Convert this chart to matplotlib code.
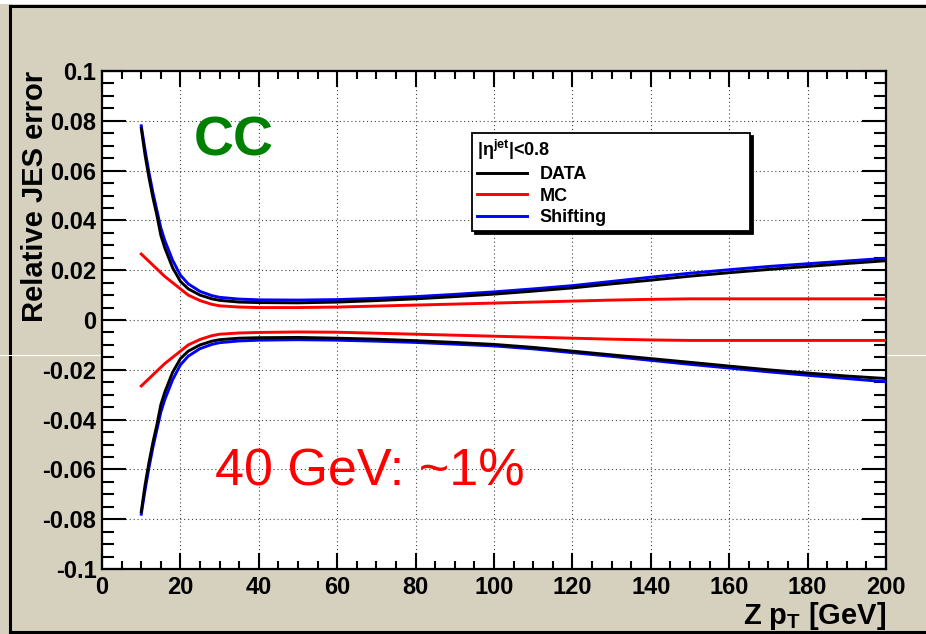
import numpy as np
import matplotlib
matplotlib.use("Agg")
import matplotlib.pyplot as plt
from matplotlib.lines import Line2D
from matplotlib.patches import Rectangle
from matplotlib.ticker import MultipleLocator

plt.rcParams['font.family'] = ['Liberation Sans', 'DejaVu Sans']
plt.rcParams['font.weight'] = 'bold'

# --- JES uncertainty bands vs Z pT ---
zpt = [10, 11, 12, 13, 14, 15, 16, 18, 20, 22, 25, 28, 30, 35, 40, 50, 60,
       70, 80, 90, 100, 110, 120, 130, 140, 150, 160, 170, 180, 190, 200]

data_up = [0.077, 0.066, 0.057, 0.049, 0.042, 0.034, 0.029, 0.021, 0.0155,
           0.0125, 0.0100, 0.0085, 0.0079, 0.0072, 0.0070, 0.0069, 0.0072,
           0.0078, 0.0085, 0.0094, 0.0104, 0.0116, 0.0129, 0.0145, 0.0160,
           0.0176, 0.0190, 0.0203, 0.0215, 0.0227, 0.0238]
data_dn = [-0.077, -0.066, -0.057, -0.049, -0.042, -0.034, -0.029, -0.021,
           -0.0155, -0.0125, -0.0100, -0.0085, -0.0079, -0.0073, -0.0071,
           -0.0070, -0.0073, -0.0077, -0.0083, -0.0090, -0.0098, -0.0110,
           -0.0125, -0.0140, -0.0155, -0.0170, -0.0185, -0.0200, -0.0213,
           -0.0225, -0.0235]

mc_up = [0.0265, 0.025, 0.0235, 0.022, 0.0205, 0.019, 0.0175, 0.015, 0.0125,
         0.0100, 0.0078, 0.0063, 0.0057, 0.0052, 0.0050, 0.0050, 0.0052,
         0.0056, 0.0060, 0.0064, 0.0068, 0.0072, 0.0076, 0.0080, 0.0083,
         0.0085, 0.0085, 0.0085, 0.0085, 0.0085, 0.0085]
mc_dn = [-0.0265, -0.025, -0.0235, -0.022, -0.0205, -0.019, -0.0175, -0.015,
         -0.0125, -0.0100, -0.0078, -0.0063, -0.0057, -0.0052, -0.0050,
         -0.0048, -0.0049, -0.0053, -0.0057, -0.0061, -0.0065, -0.0069,
         -0.0073, -0.0077, -0.0080, -0.0082, -0.0082, -0.0082, -0.0082,
         -0.0082, -0.0082]

shift_up = [0.078, 0.068, 0.059, 0.051, 0.044, 0.037, 0.032, 0.024, 0.018,
            0.0145, 0.0115, 0.0098, 0.0091, 0.0084, 0.0081, 0.0080, 0.0082,
            0.0087, 0.0094, 0.0103, 0.0113, 0.0125, 0.0138, 0.0155, 0.0172,
            0.0188, 0.0202, 0.0215, 0.0226, 0.0237, 0.0248]
shift_dn = [-0.078, -0.068, -0.059, -0.051, -0.044, -0.037, -0.032, -0.024,
            -0.018, -0.0145, -0.0115, -0.0098, -0.0091, -0.0084, -0.0081,
            -0.0079, -0.0081, -0.0085, -0.0090, -0.0097, -0.0104, -0.0116,
            -0.0131, -0.0146, -0.0162, -0.0178, -0.0193, -0.0208, -0.0222,
            -0.0235, -0.0248]

xticks = [0, 20, 40, 60, 80, 100, 120, 140, 160, 180, 200]
yticks = [-0.1, -0.08, -0.06, -0.04, -0.02, 0, 0.02, 0.04, 0.06, 0.08, 0.1]
ytick_labels = ['-0.1', '-0.08', '-0.06', '-0.04', '-0.02', '0',
                '0.02', '0.04', '0.06', '0.08', '0.1']

canvas_col = '#d6d0be'

fig = plt.figure(figsize=(9.26, 6.34), dpi=100, facecolor=canvas_col)
ax = fig.add_axes([0.1102, 0.1025, 0.8466, 0.7855])
ax.set_facecolor('white')

# frame of the canvas
fig.add_artist(Rectangle((0, 0.9937), 1, 0.0063, transform=fig.transFigure,
                         facecolor='white', edgecolor='none', zorder=-2))
for xs, ys in [([0.0108, 1.0], [0.9913, 0.9913]),
               ([0.0108, 0.0108], [0.0, 0.9913]),
               ([0.0108, 1.0], [0.003, 0.003])]:
    fig.add_artist(Line2D(xs, ys, transform=fig.transFigure, color='black',
                          lw=2.2, zorder=-1))
fig.add_artist(Line2D([0, 1], [0.44, 0.44], transform=fig.transFigure,
                      color='white', lw=0.8, zorder=-1))

lw = 2.1
ax.plot(zpt, shift_up, color='#0000ff', lw=lw, zorder=3, label='Shifting')
ax.plot(zpt, shift_dn, color='#0000ff', lw=lw, zorder=3)
ax.plot(zpt, data_up, color='black', lw=lw, zorder=4, label='DATA')
ax.plot(zpt, data_dn, color='black', lw=lw, zorder=4)
ax.plot(zpt, mc_up, color='#ff0000', lw=lw, zorder=5, label='MC')
ax.plot(zpt, mc_dn, color='#ff0000', lw=lw, zorder=5)

ax.set_xlim(0, 200)
ax.set_ylim(-0.1, 0.1)
ax.set_xticks(xticks)
ax.set_xticklabels([str(v) for v in xticks])
ax.set_yticks(yticks)
ax.set_yticklabels(ytick_labels)
ax.xaxis.set_minor_locator(MultipleLocator(5))
ax.yaxis.set_minor_locator(MultipleLocator(0.005))

ax.tick_params(axis='both', which='both', direction='in', top=True, right=True,
               width=1.5, labelsize=17)
ax.tick_params(axis='x', which='major', length=11.5, pad=5)
ax.tick_params(axis='x', which='minor', length=6)
ax.tick_params(axis='y', which='major', length=17, pad=4)
ax.tick_params(axis='y', which='minor', length=8.5)
for s in ax.spines.values():
    s.set_linewidth(1.6)

ax.grid(True, which='major', color='#444444', linestyle=(0, (1, 2.5)), lw=0.8)
ax.set_axisbelow(True)

ax.set_xlabel(r'Z p$_{\mathregular{T}}$ [GeV]', fontsize=21, fontweight='bold',
              loc='right')
ax.xaxis.set_label_coords(1.0, -0.062)
ax.set_ylabel('Relative JES error', fontsize=21, fontweight='bold', loc='top')
ax.yaxis.set_label_coords(-0.068, 1.0)

ax.text(0.168, 0.831, 'CC', transform=ax.transAxes, color='#008000',
        fontsize=40, fontweight='bold', ha='center', va='baseline')
ax.text(0.144, 0.1687, '40 GeV: ~1%', transform=ax.transAxes, color='#ff0000',
        fontsize=37.5, fontweight='normal', ha='left', va='baseline')

handles, labels = ax.get_legend_handles_labels()
order = [labels.index(n) for n in ['DATA', 'MC', 'Shifting']]
leg = ax.legend([handles[i] for i in order], [labels[i] for i in order],
                title=r'|η$^{\mathregular{jet}}$|<0.8',
                loc='upper left', bbox_to_anchor=(0.472, 0.687, 0.3545, 0.1885),
                mode='expand', fontsize=13, title_fontsize=13,
                alignment='left', fancybox=False, framealpha=1,
                edgecolor='black', borderpad=0.25, labelspacing=0.25,
                handlelength=2.8, handletextpad=0.7, borderaxespad=0,
                shadow={'ox': 2.2, 'oy': -2.2, 'color': 'black', 'alpha': 1})
leg.get_frame().set_linewidth(1.3)
leg.get_title().set_fontweight('bold')

fig.savefig('out.png', dpi=100, facecolor=canvas_col)
